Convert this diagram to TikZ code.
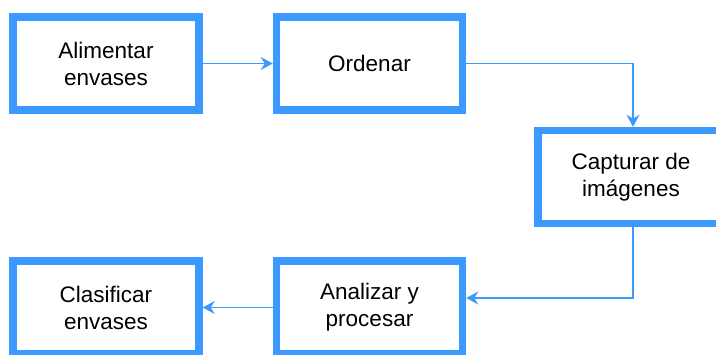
\documentclass[tikz,border=0pt]{standalone}
\usepackage{fontspec}
\setmainfont{Liberation Sans}
\usetikzlibrary{positioning,calc,arrows.meta}
\definecolor{flowblue}{RGB}{59,153,255}

\begin{document}
\begin{tikzpicture}[
    x=1pt, y=-1pt,
    stage/.style={rectangle, draw=flowblue, line width=7.5pt, fill=white, minimum width=186pt, minimum height=93pt, align=center, font=\fontsize{22.5}{27}\selectfont},
    arrow/.style={-{Stealth[length=12pt,width=13pt,inset=4pt]}, draw=flowblue, line width=1.8pt}
]
\useasboundingbox (0,0) rectangle (716,354);

% Top row
\node[stage] (feed) at (106, 63.5) {Alimentar\\envases};
\node[stage] (sort) at (369.5, 63.5) {Ordenar};

% Camera
\node[stage] (capture) at (631, 177) {Capturar de\\im\'agenes};

% Bottom row
\node[stage] (classify) at (106, 307.5) {Clasificar\\envases};
\node[stage] (process) at (369.5, 307.5) {Analizar y\\procesar};

% Arrows
\draw[arrow] (feed) -- (sort);
\draw[arrow] (sort.east) -| ([xshift=2pt]capture.north);
\draw[arrow] ([xshift=2pt]capture.south) |- ([yshift=9.5pt]process.east);
\draw[arrow] (process) -- (classify);

\end{tikzpicture}
\end{document}
